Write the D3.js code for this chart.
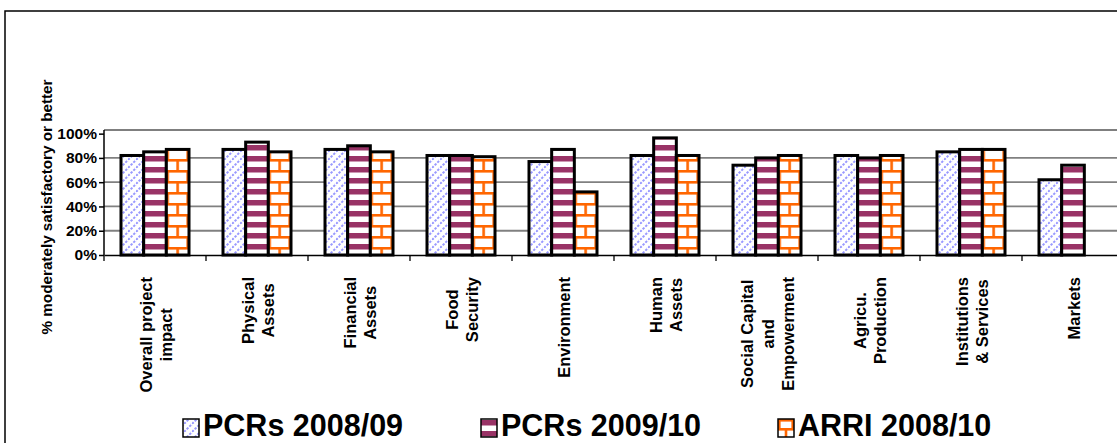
<!DOCTYPE html>
<html><head><meta charset="utf-8">
<script src="https://cdn.jsdelivr.net/npm/d3@7/dist/d3.min.js"></script>
<style>body{margin:0;background:#fff;overflow:hidden}svg{display:block;font-family:"Liberation Sans",Arial,sans-serif}</style>
</head><body><svg id="chart" width="1117" height="443"></svg>
<script>
const categories = ["Overall project\nimpact","Physical\nAssets","Financial\nAssets","Food\nSecurity","Environment","Human\nAssets","Social Capital\nand\nEmpowerment","Agricu.\nProduction","Institutions\n& Services","Markets"];
const seriesNames = ["PCRs 2008/09","PCRs 2009/10","ARRI 2008/10"];
const pcrs0809 = [0.82,0.87,0.87,0.82,0.77,0.82,0.74,0.82,0.85,0.62];
const pcrs0910 = [0.85,0.93,0.90,0.82,0.87,0.965,0.80,0.80,0.87,0.74];
const arri0810 = [0.87,0.85,0.85,0.81,0.52,0.82,0.82,0.82,0.87,null];
const yTicks = [0,0.2,0.4,0.6,0.8,1.0];
const yTitle = "% moderately satisfactory or better";

const FONT = "'Liberation Sans', Arial, sans-serif";
const seriesValues = [pcrs0809,pcrs0910,arri0810];
const svg = d3.select("#chart").attr("font-family",FONT);
const defs = svg.append("defs");

const plotL = 104, plotR = 1124, plotT = 130, plotB = 255;
const x0 = d3.scaleBand().domain(categories).range([plotL, plotR]).padding(0);
const x1 = d3.scaleBand().domain(seriesNames).range([0, x0.bandwidth()]).paddingInner(0).paddingOuter(0.75);
const y = d3.scaleLinear().domain([0,1.03]).range([plotB, plotT]);

function diagPattern(id){
  const p = defs.append("pattern").attr("id",id).attr("patternUnits","userSpaceOnUse").attr("width",8).attr("height",8);
  p.append("rect").attr("width",8).attr("height",8).attr("fill","#fff");
  p.append("path").attr("d","M0,8L8,0M-2,2L2,-2M6,10L10,6").attr("stroke","#9999ff").attr("stroke-width",2).attr("stroke-dasharray","2.4,1.4");
}
function stripePattern(id, h){
  const p = defs.append("pattern").attr("id",id).attr("patternUnits","userSpaceOnUse").attr("width",10).attr("height",h).attr("y",plotB);
  p.append("rect").attr("width",10).attr("height",h).attr("fill","#fff");
  p.append("rect").attr("width",10).attr("height",h/2).attr("fill","#993366");
}
function brickPattern(id, x0p, w, y0p, h){
  const p = defs.append("pattern").attr("id",id).attr("patternUnits","userSpaceOnUse").attr("x",x0p).attr("y",y0p).attr("width",w).attr("height",h*2);
  p.append("rect").attr("width",w).attr("height",h*2).attr("fill","#fff");
  const c = "#ff6600", t = 2.6;
  p.append("rect").attr("x",0).attr("y",0).attr("width",w).attr("height",t).attr("fill",c);
  p.append("rect").attr("x",0).attr("y",h).attr("width",w).attr("height",t).attr("fill",c);
  p.append("rect").attr("x",w/2-t/2).attr("y",0).attr("width",t).attr("height",h).attr("fill",c);
  p.append("rect").attr("x",0).attr("y",h).attr("width",t).attr("height",h).attr("fill",c);
  p.append("rect").attr("x",w-t).attr("y",h).attr("width",t).attr("height",h).attr("fill",c);
}
diagPattern("pDiag");
stripePattern("pStripe", 11);
const bw = x1.bandwidth();
categories.forEach((c,i)=>brickPattern("pBrick"+i, x0(c)+x1(seriesNames[2]), bw, plotB-8, 11));

svg.append("rect").attr("x",5).attr("y",11).attr("width",1130).attr("height",450).attr("fill","none").attr("stroke","#000").attr("stroke-width",1.5);

svg.append("g").selectAll("line").data(yTicks.filter(d=>d>0 && d<1)).join("line")
  .attr("x1",plotL).attr("x2",plotR).attr("y1",d=>y(d)).attr("y2",d=>y(d))
  .attr("stroke","#808080").attr("stroke-width",1.8);
svg.append("line").attr("x1",plotL).attr("x2",plotR).attr("y1",plotT).attr("y2",plotT).attr("stroke","#000").attr("stroke-width",1.2);

const fills = ["url(#pDiag)","url(#pStripe)",null];
const barData = [];
categories.forEach((c,i)=>seriesNames.forEach((s,j)=>{
  const v = seriesValues[j][i];
  if(v!=null) barData.push({c,s,v,i,j});
}));
svg.append("g").selectAll("rect").data(barData).join("rect")
  .attr("x",d=>x0(d.c)+x1(d.s)).attr("width",bw)
  .attr("y",d=>y(d.v)).attr("height",d=>plotB-y(d.v))
  .attr("fill",d=>d.j===2?"url(#pBrick"+d.i+")":fills[d.j])
  .attr("stroke","#000").attr("stroke-width",3);

const yAxis = d3.axisLeft(y).tickValues(yTicks).tickFormat(d3.format(".0%")).tickSize(5).tickSizeOuter(0);
const gy = svg.append("g").attr("transform",`translate(${plotL},0)`).call(yAxis);
gy.select(".domain").remove();
gy.selectAll(".tick line").attr("stroke","#000").attr("stroke-width",1.5);
gy.selectAll(".tick text").attr("x",-7).attr("font-size",15.5).attr("font-weight","bold").attr("fill","#000").attr("font-family",FONT);
svg.append("line").attr("x1",plotL).attr("x2",plotL).attr("y1",plotT).attr("y2",plotB).attr("stroke","#000").attr("stroke-width",1.5);

const xAxis = d3.axisBottom(x0).tickSize(0).tickFormat("");
const gx = svg.append("g").attr("transform",`translate(0,${plotB})`).call(xAxis);
gx.select(".domain").attr("stroke","#000").attr("stroke-width",1.5);
const bounds = categories.map(c=>x0(c)).concat([x0(categories[categories.length-1])+x0.bandwidth()]);
svg.append("g").selectAll("line").data(bounds).join("line")
  .attr("x1",d=>d).attr("x2",d=>d).attr("y1",plotB).attr("y2",plotB+6).attr("stroke","#000").attr("stroke-width",1.3);

const labTop = 277, lineGap = 20.5;
categories.forEach(c=>{
  const lines = c.split("\n");
  const g = svg.append("g").attr("transform",`translate(${x0(c)+x0.bandwidth()/2+1},${labTop}) rotate(-90)`);
  const texts = g.selectAll("text").data(lines).join("text")
    .attr("font-size",16.5).attr("font-weight","bold").attr("fill","#000").attr("font-family",FONT)
    .attr("text-anchor","middle").attr("dy","0.35em")
    .attr("y",(d,k)=>(k-(lines.length-1)/2)*lineGap)
    .text(d=>d);
  let maxLen = 0;
  texts.each(function(){maxLen = Math.max(maxLen,this.getComputedTextLength());});
  texts.attr("x",-maxLen/2);
});

svg.append("text").attr("transform","translate(47.5,207) rotate(-90)")
  .attr("text-anchor","middle").attr("dy","0.35em").attr("font-size",14).attr("font-weight","bold").attr("fill","#000").attr("font-family",FONT)
  .attr("textLength",255).attr("lengthAdjust","spacingAndGlyphs")
  .text(yTitle);

const legX = [183,481,778];
const lg = svg.append("g");
seriesNames.forEach((s,j)=>{
  let fill = fills[j];
  if(j===2){ brickPattern("pBrickLeg", legX[j], 16, 428, 9); fill = "url(#pBrickLeg)"; }
  lg.append("rect").attr("x",legX[j]).attr("y",419).attr("width",16).attr("height",18)
    .attr("fill",fill).attr("stroke","#000").attr("stroke-width",1.5);
  lg.append("text").attr("x",legX[j]+20).attr("y",436).attr("font-size",30.5).attr("font-weight","bold").attr("fill","#000").attr("font-family",FONT).text(s);
});
</script></body></html>
